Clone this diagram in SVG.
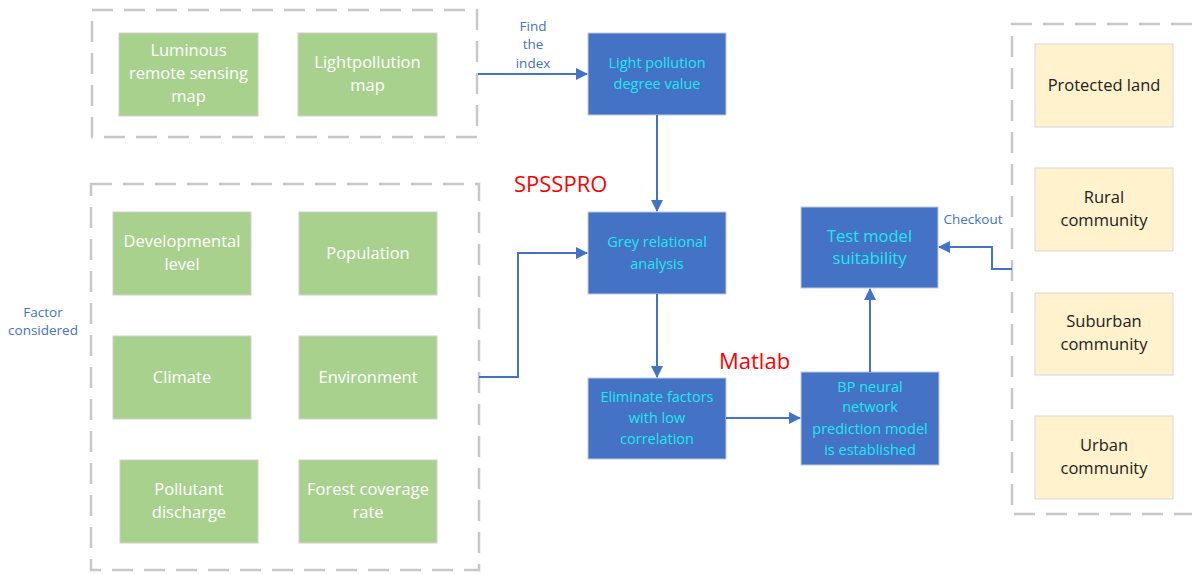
<svg xmlns="http://www.w3.org/2000/svg" width="1192" height="574" viewBox="0 0 1192 574">
<defs>
<marker id="ah" markerWidth="12" markerHeight="12" refX="11" refY="6" orient="auto" markerUnits="userSpaceOnUse">
<path d="M0,0 L12,6 L0,12 Z" fill="#4472C4"/>
</marker>
<style>
.dash{fill:none;stroke:#C8C8C8;stroke-width:2.5;stroke-dasharray:21,11}
.g{fill:#A9D18E;stroke:#D0D0D0;stroke-width:1}
.b{fill:#4472C4;stroke:#BFC9DE;stroke-width:1}
.y{fill:#FFF2CC;stroke:#D8D8D8;stroke-width:1}
.tg{font-family:"Open Sans","Liberation Sans",sans-serif;font-size:16.5px;fill:#FFFFFF;text-anchor:middle}
.tb{font-family:"Open Sans","Liberation Sans",sans-serif;font-size:14.5px;fill:#1FE8F2;text-anchor:middle}
.ty{font-family:"Open Sans","Liberation Sans",sans-serif;font-size:16.5px;fill:#222222;text-anchor:middle}
.tl{font-family:"Open Sans","Liberation Sans",sans-serif;font-size:13.5px;fill:#4472C4;text-anchor:middle}
.tr{font-family:"Open Sans","Liberation Sans",sans-serif;font-size:22px;fill:#FF0000}
.c{fill:none;stroke:#4472C4;stroke-width:2;marker-end:url(#ah)}
</style>
</defs>
<rect width="1192" height="574" fill="#FFFFFF"/>
<g id="groups">
<rect class="dash" x="92" y="10" width="385" height="127"/>
<rect class="dash" x="91" y="184" width="388" height="386"/>
<path class="dash" d="M1192,24 L1012,24 L1012,514 L1192,514"/>
</g>
<g id="n-luminous"><rect class="g" x="119" y="33" width="139" height="83"/>
<text class="tg" x="188.5" y="56">Luminous</text><text class="tg" x="188.5" y="79">remote sensing</text><text class="tg" x="188.5" y="102">map</text></g>
<g id="n-lightmap"><rect class="g" x="298" y="33" width="139" height="83"/>
<text class="tg" x="367.5" y="68">Lightpollution</text><text class="tg" x="367.5" y="91">map</text></g>
<g id="n-dev"><rect class="g" x="113" y="212" width="138" height="83"/>
<text class="tg" x="182" y="247">Developmental</text><text class="tg" x="182" y="270">level</text></g>
<g id="n-pop"><rect class="g" x="299" y="212" width="138" height="83"/>
<text class="tg" x="368" y="259">Population</text></g>
<g id="n-climate"><rect class="g" x="113" y="336" width="138" height="83"/>
<text class="tg" x="182" y="383">Climate</text></g>
<g id="n-env"><rect class="g" x="299" y="336" width="138" height="83"/>
<text class="tg" x="368" y="383">Environment</text></g>
<g id="n-pollutant"><rect class="g" x="120" y="460" width="138" height="83"/>
<text class="tg" x="189" y="495">Pollutant</text><text class="tg" x="189" y="518">discharge</text></g>
<g id="n-forest"><rect class="g" x="299" y="460" width="138" height="83"/>
<text class="tg" x="368" y="495">Forest coverage</text><text class="tg" x="368" y="518">rate</text></g>
<g id="n-lpd"><rect class="b" x="588" y="33" width="138" height="82"/>
<text class="tb" x="657" y="68">Light pollution</text><text class="tb" x="657" y="89">degree value</text></g>
<g id="n-grey"><rect class="b" x="588" y="212" width="138" height="82"/>
<text class="tb" x="657" y="247">Grey relational</text><text class="tb" x="657" y="269">analysis</text></g>
<g id="n-elim"><rect class="b" x="588" y="378" width="138" height="81"/>
<text class="tb" x="657" y="402">Eliminate factors</text><text class="tb" x="657" y="423">with low</text><text class="tb" x="657" y="444">correlation</text></g>
<g id="n-bp"><rect class="b" x="801" y="372" width="138" height="93"/>
<text class="tb" x="870" y="392">BP neural</text><text class="tb" x="870" y="412">network</text><text class="tb" x="870" y="434">prediction model</text><text class="tb" x="870" y="455">is established</text></g>
<g id="n-test"><rect class="b" x="801" y="207" width="137" height="81"/>
<text class="tb" x="869.5" y="242" style="font-size:16.5px">Test model</text><text class="tb" x="869.5" y="264" style="font-size:16.5px">suitability</text></g>
<g id="n-protected"><rect class="y" x="1035" y="44" width="138" height="83"/>
<text class="ty" x="1104" y="91">Protected land</text></g>
<g id="n-rural"><rect class="y" x="1035" y="168" width="138" height="83"/>
<text class="ty" x="1104" y="203">Rural</text><text class="ty" x="1104" y="226">community</text></g>
<g id="n-suburban"><rect class="y" x="1035" y="293" width="138" height="82"/>
<text class="ty" x="1104" y="327">Suburban</text><text class="ty" x="1104" y="350">community</text></g>
<g id="n-urban"><rect class="y" x="1035" y="416" width="138" height="83"/>
<text class="ty" x="1104" y="451">Urban</text><text class="ty" x="1104" y="474">community</text></g>
<g id="connectors">
<path class="c" d="M478,74 L587,74"/>
<path class="c" d="M657,115 L657,211"/>
<path class="c" d="M479,377 L518,377 L518,253 L587,253"/>
<path class="c" d="M657,294 L657,377"/>
<path class="c" d="M726,418 L800,418"/>
<path class="c" d="M870,372 L870,289"/>
<path class="c" d="M1012,269 L992,269 L992,247 L939,247"/>
</g>
<g id="labels">
<text class="tl" x="533" y="31">Find</text><text class="tl" x="533" y="49">the</text><text class="tl" x="533" y="68">index</text>
<text class="tl" x="43" y="317">Factor</text><text class="tl" x="43" y="335">considered</text>
<text class="tl" x="973" y="224">Checkout</text>
<text class="tr" x="514" y="192">SPSSPRO</text>
<text class="tr" x="719" y="369">Matlab</text>
</g>
</svg>
